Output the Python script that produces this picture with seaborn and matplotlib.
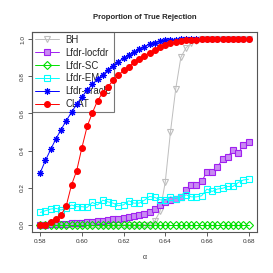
import numpy as np
import pandas as pd
import matplotlib
matplotlib.use("Agg")
import matplotlib.pyplot as plt
import seaborn as sns

alpha = np.round(np.arange(0.58, 0.68001, 0.0025), 4)

bh = [0.0] * 22 + [0.02, 0.072, 0.229, 0.50, 0.73, 0.903, 0.955, 0.978, 0.99] + [1.0] * 10

locfdr = [0.0, 0.0, 0.002, 0.003, 0.004, 0.005, 0.007, 0.009, 0.011, 0.012,
          0.012, 0.018, 0.022, 0.026, 0.028, 0.032, 0.036, 0.041, 0.048, 0.052,
          0.058, 0.066, 0.082, 0.104, 0.12, 0.132, 0.14, 0.15, 0.188, 0.213,
          0.213, 0.233, 0.285, 0.285, 0.311, 0.352, 0.367, 0.402, 0.385, 0.428,
          0.447]

sc = [0.0] * 41

em = [0.066, 0.075, 0.084, 0.088, 0.079, 0.09, 0.106, 0.097, 0.097, 0.093,
      0.12, 0.106, 0.132, 0.123, 0.116, 0.102, 0.107, 0.129, 0.116, 0.116,
      0.132, 0.152, 0.147, 0.134, 0.132, 0.15, 0.141, 0.147, 0.161, 0.15,
      0.15, 0.156, 0.192, 0.179, 0.192, 0.196, 0.206, 0.206, 0.227, 0.241,
      0.245]

oracle = [0.281, 0.347, 0.406, 0.463, 0.513, 0.562, 0.606, 0.651, 0.689, 0.727,
          0.757, 0.785, 0.81, 0.835, 0.858, 0.88, 0.898, 0.916, 0.93, 0.946,
          0.96, 0.975, 0.983, 0.99, 0.995, 0.998, 0.999] + [1.0] * 14

clat = [0.0, 0.0, 0.014, 0.032, 0.052, 0.103, 0.214, 0.292, 0.416, 0.53,
        0.603, 0.669, 0.712, 0.745, 0.778, 0.808, 0.832, 0.853, 0.876, 0.894,
        0.912, 0.928, 0.943, 0.957, 0.969, 0.978, 0.985, 0.99, 0.994, 0.997,
        0.999] + [1.0] * 10

series = [
    ("BH", bh, "#BEBEBE", "v", "none", 4.6),
    ("Lfdr-locfdr", locfdr, "#A020F0", "s", "#C98AF2", 3.9),
    ("Lfdr-SC", sc, "#00E000", "D", "none", 3.7),
    ("Lfdr-EM", em, "#00FFFF", "s", "none", 4.1),
    ("Lfdr-oracle", oracle, "#0000FF", (8, 2, 0), "none", 4.8),
    ("CLAT", clat, "#FF0000", "o", "#FF0000", 4.2),
]

sns.set_style("ticks")
plt.rcParams['font.family'] = ['Liberation Sans', 'DejaVu Sans']

fig = plt.figure(figsize=(2.73, 2.73), dpi=100)
ax = fig.add_axes([0.117, 0.150, 0.824, 0.733])

for i, (name, vals, col, mk, fc, ms) in enumerate(series):
    sns.lineplot(x=alpha, y=vals, ax=ax, color=col, marker=mk, markersize=ms,
                 markerfacecolor=fc, markeredgecolor=col, markeredgewidth=0.8,
                 linewidth=0.7, label=name, zorder=3 + i)

ax.set_xlim(0.576, 0.684)
ax.set_ylim(-0.04, 1.04)
ax.set_xticks([0.58, 0.60, 0.62, 0.64, 0.66, 0.68])
ax.set_xticklabels(["0.58", "0.60", "0.62", "0.64", "0.66", "0.68"])
ax.set_yticks([0.0, 0.2, 0.4, 0.6, 0.8, 1.0])
ax.set_yticklabels(["0.0", "0.2", "0.4", "0.6", "0.8", "1.0"], rotation=90, va="center")
ax.tick_params(axis="both", labelsize=4.6, length=3, width=0.6, color="#444444",
               labelcolor="#333333", pad=2)
for s in ax.spines.values():
    s.set_visible(True)
    s.set_color("#555555")
    s.set_linewidth(0.8)

ax.set_xlabel("α", fontsize=5, color="#333333", labelpad=7)
ax.set_ylabel("")
ax.set_title("Proportion of True Rejection", fontsize=5.6, fontweight="bold", pad=9)

leg = ax.legend(loc="upper left", fontsize=6.9, frameon=True, fancybox=False,
                borderaxespad=0, handlelength=2.5, handletextpad=0.65,
                labelspacing=0.3, borderpad=0.3)
leg.get_frame().set_edgecolor("#555555")
leg.get_frame().set_linewidth(0.8)
leg.get_frame().set_facecolor("none")
leg.set_zorder(1)

fig.savefig("out.png", dpi=100)
